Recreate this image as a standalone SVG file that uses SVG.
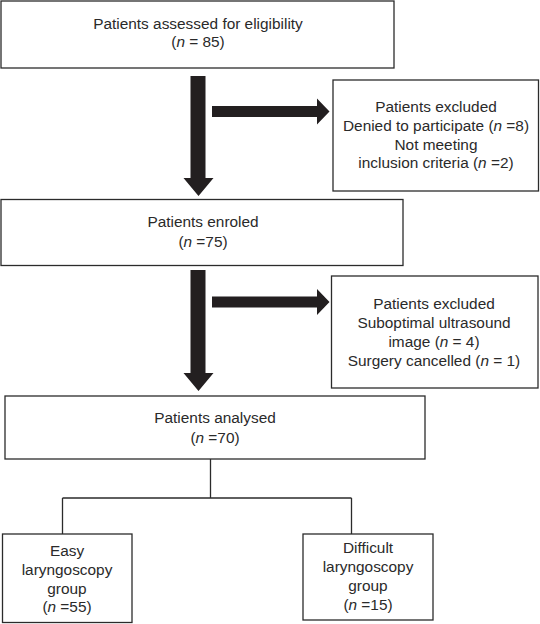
<svg xmlns="http://www.w3.org/2000/svg" width="540" height="624" viewBox="0 0 540 624">
<style>
.box{fill:#fff;stroke:#2b2b2b;stroke-width:1.3}
.t{font-family:"Liberation Sans",Arial,sans-serif;font-size:15.4px;fill:#2a2a2a;text-anchor:middle}
.i{font-style:italic}
.arr{fill:#231f20}
.ln{fill:none;stroke:#2b2b2b;stroke-width:1.3}
</style>
<rect width="540" height="624" fill="#fff"/>
<g id="connectors">
<polygon class="arr" points="190.5,76 205.5,76 205.5,178 213.5,178 198.5,196 183.5,178 190.5,178"/>
<polygon class="arr" points="212,106 317,106 317,98.5 329.5,111.5 317,124.5 317,117 212,117"/>
<polygon class="arr" points="190.5,270 205.5,270 205.5,373 213.5,373 198.5,391 183.5,373 190.5,373"/>
<polygon class="arr" points="212,296.5 317,296.5 317,289 329.5,302 317,315 317,307.5 212,307.5"/>
<path class="ln" d="M210.5,459 V498 M62.5,498 H351.5 M62.5,498 V534 M351.5,498 V534"/>
</g>
<g id="assessed">
<rect class="box" x="1" y="1" width="393" height="67"/>
<text class="t" x="198" y="29">Patients assessed for eligibility</text>
<text class="t" x="198" y="47">(<tspan class="i">n</tspan> = 85)</text>
</g>
<g id="excluded1">
<rect class="box" x="333" y="80" width="205.5" height="111"/>
<text class="t" x="436" y="112">Patients excluded</text>
<text class="t" x="436" y="131">Denied to participate (<tspan class="i">n</tspan> =8)</text>
<text class="t" x="436" y="149.5">Not meeting</text>
<text class="t" x="436" y="168">inclusion criteria (<tspan class="i">n</tspan> =2)</text>
</g>
<g id="enrolled">
<rect class="box" x="1" y="199.5" width="402" height="66"/>
<text class="t" x="203" y="227">Patients enroled</text>
<text class="t" x="203" y="247">(<tspan class="i">n</tspan> =75)</text>
</g>
<g id="excluded2">
<rect class="box" x="331.5" y="276" width="206.5" height="112"/>
<text class="t" x="434" y="309">Patients excluded</text>
<text class="t" x="434" y="328">Suboptimal ultrasound</text>
<text class="t" x="434" y="347">image (<tspan class="i">n</tspan> = 4)</text>
<text class="t" x="434" y="366">Surgery cancelled (<tspan class="i">n</tspan> = 1)</text>
</g>
<g id="analysed">
<rect class="box" x="5" y="396" width="420" height="63"/>
<text class="t" x="215" y="423">Patients analysed</text>
<text class="t" x="215" y="443">(<tspan class="i">n</tspan> =70)</text>
</g>
<g id="easy">
<rect class="box" x="2.5" y="534" width="129.5" height="88.5"/>
<text class="t" x="67" y="556">Easy</text>
<text class="t" x="67" y="575">laryngoscopy</text>
<text class="t" x="67" y="593.5">group</text>
<text class="t" x="67" y="612">(<tspan class="i">n</tspan> =55)</text>
</g>
<g id="difficult">
<rect class="box" x="303" y="534" width="130" height="86"/>
<text class="t" x="368" y="553">Difficult</text>
<text class="t" x="368" y="572">laryngoscopy</text>
<text class="t" x="368" y="590.5">group</text>
<text class="t" x="368" y="609.5">(<tspan class="i">n</tspan> =15)</text>
</g>
</svg>
